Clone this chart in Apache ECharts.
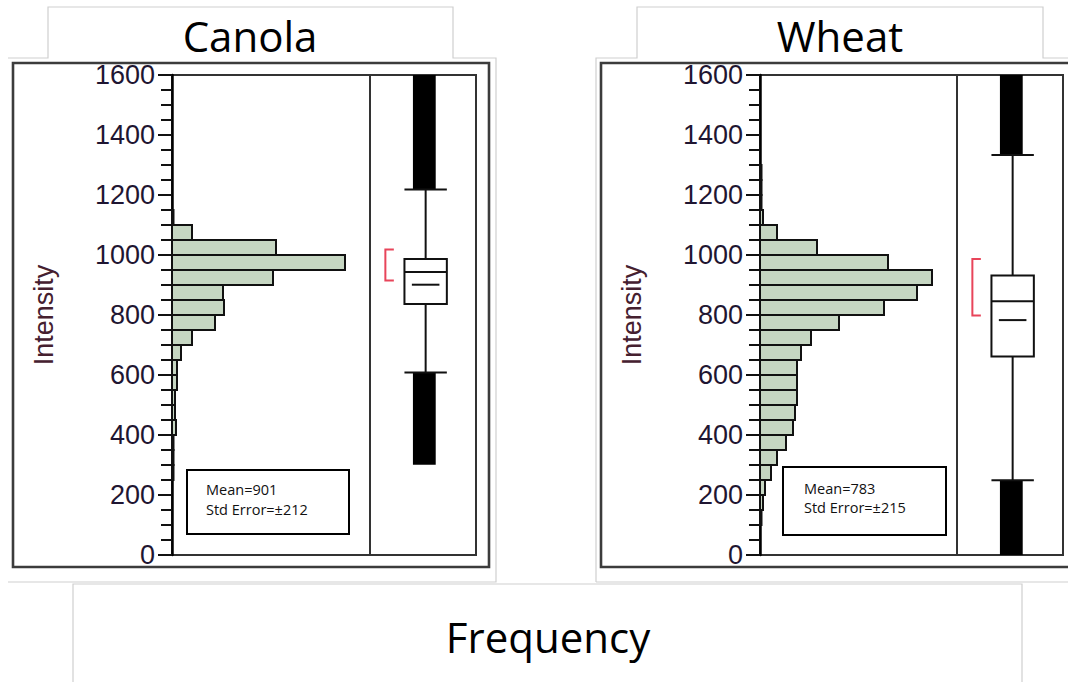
<!DOCTYPE html>
<html>
<head>
<meta charset="utf-8">
<style>
  html, body { margin: 0; padding: 0; background: #ffffff; }
  #chart { width: 1068px; height: 682px; }
</style>
<script src="https://cdn.jsdelivr.net/npm/echarts@6/dist/echarts.min.js"></script>
</head>
<body>
<div id="chart"></div>
<script>
// ---------------- DATA ----------------
const panelTitles = ['Canola', 'Wheat'];
const xAxisTitle = 'Frequency';
const yAxisTitle = 'Intensity';
const yTicks = [0, 200, 400, 600, 800, 1000, 1200, 1400, 1600];
const binWidth = 50;

// Canola histogram (bin start intensity, frequency)
const canolaBinStart = [250, 300, 350, 400, 450, 500, 550, 600, 650, 700, 750, 800, 850, 900, 950, 1000, 1050, 1100];
const canolaCounts   = [1.5, 1.5, 1.5, 4, 3, 3, 5, 5, 9, 20, 43, 52, 51, 101, 173, 104, 20, 1.5];

// Wheat histogram
const wheatBinStart = [100, 150, 200, 250, 300, 350, 400, 450, 500, 550, 600, 650, 700, 750, 800, 850, 900, 950, 1000, 1050, 1100, 1150, 1200, 1250];
const wheatCounts   = [1.5, 3, 5, 11, 17, 26, 33, 35, 37, 37, 37, 41, 51, 79, 124, 157, 172, 128, 57, 17, 3, 1.5, 1.5, 1.5];

// Box-plot summaries: [whiskerLow, q1, median, q3, whiskerHigh, mean]
const canolaBox = [608, 837, 943, 987, 1218, 901];
const wheatBox  = [249, 662, 846, 932, 1333, 783];
// Dense outlier ranges [low from, low to, high from, high to]
const canolaOutliers = [301, 608, 1218, 1600];
const wheatOutliers  = [0, 249, 1333, 1600];
// Shortest-half brackets [from, to]
const canolaShortestHalf = [915, 1018];
const wheatShortestHalf  = [798, 987];
// Summary box text values
const canolaMean = 901, canolaStdErr = 212;
const wheatMean = 783, wheatStdErr = 215;

// ---------------- CHART ----------------
const chart = echarts.init(document.getElementById('chart'), null, { renderer: 'svg' });

function bins(starts, counts) {
  return starts.map((s, i) => [s, s + binWidth, counts[i]]);
}

function histRender(params, api) {
  const lo = api.value(0), hi = api.value(1), c = api.value(2);
  const p0 = api.coord([0, hi]);
  const p1 = api.coord([c, lo]);
  return {
    type: 'rect',
    shape: { x: p0[0], y: p0[1], width: p1[0] - p0[0], height: p1[1] - p0[1] },
    style: { fill: '#c6d6c2', stroke: '#111111', lineWidth: 2 }
  };
}

const CX = 0.525, HW = 0.2, OL = 0.405, OR = 0.62, MHW = 0.13, BX0 = 0.145, BX1 = 0.225;
function boxRender(params, api) {
  const wl = api.value(0), q1 = api.value(1), med = api.value(2), q3 = api.value(3),
        wh = api.value(4), mean = api.value(5),
        oa = api.value(6), ob = api.value(7), oc = api.value(8), od = api.value(9),
        sa = api.value(10), sb = api.value(11);
  const c = (x, y) => api.coord([x, y]);
  const line = (a, b, color, w) => ({ type: 'line', shape: { x1: a[0], y1: a[1], x2: b[0], y2: b[1] },
    style: { stroke: color || '#111', lineWidth: w || 2 } });
  const rect = (x0, y0, x1, y1, fill) => {
    const a = c(x0, y1), b = c(x1, y0);
    return { type: 'rect', shape: { x: a[0], y: a[1], width: b[0] - a[0], height: b[1] - a[1] },
      style: { fill: fill, stroke: fill === '#ffffff' ? '#111' : null, lineWidth: 2 } };
  };
  const children = [
    rect(OL, oa, OR, ob, '#000000'),
    rect(OL, oc, OR, od, '#000000'),
    line(c(CX, wl), c(CX, q1)),
    line(c(CX, q3), c(CX, wh)),
    line(c(CX - HW, wl), c(CX + HW, wl)),
    line(c(CX - HW, wh), c(CX + HW, wh)),
    rect(CX - HW, q1, CX + HW, q3, '#ffffff'),
    line(c(CX - HW, med), c(CX + HW, med)),
    line(c(CX - MHW, mean), c(CX + MHW, mean)),
    { type: 'polyline', shape: { points: [c(BX1, sb), c(BX0, sb), c(BX0, sa), c(BX1, sa)] },
      style: { stroke: '#e8455a', lineWidth: 2, fill: null } }
  ];
  return { type: 'group', children: children };
}

const gridTop = 75, gridH = 480;
const grids = [
  { left: 172, top: gridTop, width: 198, height: gridH },
  { left: 370, top: gridTop, width: 106, height: gridH },
  { left: 760, top: gridTop, width: 197, height: gridH },
  { left: 957, top: gridTop, width: 106, height: gridH }
].map(g => Object.assign(g, { show: true, borderColor: '#333333', borderWidth: 2, backgroundColor: 'transparent' }));

function histYAxis(idx) {
  return {
    type: 'value', gridIndex: idx, min: yTicks[0], max: yTicks[yTicks.length - 1], interval: 200,
    name: yAxisTitle, nameLocation: 'middle', nameGap: 115, nameRotate: 90,
    nameTextStyle: { fontFamily: 'Liberation Sans', fontSize: 27, color: '#45202f' },
    axisLine: { show: true, lineStyle: { color: '#000', width: 2.5 } },
    axisTick: { show: true, length: 14, lineStyle: { color: '#111', width: 2 } },
    minorTick: { show: true, splitNumber: 4, length: 11, lineStyle: { color: '#111', width: 2 } },
    axisLabel: { fontFamily: 'Liberation Sans', fontSize: 27, color: '#1f1632', margin: 17,
      formatter: v => String(v) },
    splitLine: { show: false }
  };
}
function hiddenY(idx) {
  return { type: 'value', gridIndex: idx, min: yTicks[0], max: yTicks[yTicks.length - 1], show: false, splitLine: { show: false } };
}
function hiddenX(idx, max) {
  return { type: 'value', gridIndex: idx, min: 0, max: max, show: false, splitLine: { show: false } };
}

const greyLine = { stroke: '#cfcfcf', lineWidth: 1.2, fill: null };
const darkFrame = { stroke: '#3c3c3c', lineWidth: 2.6, fill: null };

const option = {
  animation: false,
  backgroundColor: '#ffffff',
  grid: grids,
  xAxis: [hiddenX(0, 198), hiddenX(1, 1), hiddenX(2, 197), hiddenX(3, 1)],
  yAxis: [histYAxis(0), hiddenY(1), histYAxis(2), hiddenY(3)],
  series: [
    { type: 'custom', xAxisIndex: 0, yAxisIndex: 0, renderItem: histRender, data: bins(canolaBinStart, canolaCounts), z: 3 },
    { type: 'custom', xAxisIndex: 1, yAxisIndex: 1, renderItem: boxRender,
      data: [canolaBox.concat(canolaOutliers, canolaShortestHalf)], z: 3 },
    { type: 'custom', xAxisIndex: 2, yAxisIndex: 2, renderItem: histRender, data: bins(wheatBinStart, wheatCounts), z: 3 },
    { type: 'custom', xAxisIndex: 3, yAxisIndex: 3, renderItem: boxRender,
      data: [wheatBox.concat(wheatOutliers, wheatShortestHalf)], z: 3 }
  ],
  graphic: [
    // light grey tab outlines
    { type: 'polyline', shape: { points: [[8, 58], [48, 58], [48, 7], [453, 7], [453, 58], [496, 58], [496, 582], [8, 582]] }, style: greyLine, silent: true },
    { type: 'polyline', shape: { points: [[596, 582], [596, 58], [637, 58], [637, 7], [1043, 7], [1043, 58], [1068, 58]] }, style: greyLine, silent: true },
    { type: 'polyline', shape: { points: [[596, 582], [1068, 582]] }, style: greyLine, silent: true },
    { type: 'polyline', shape: { points: [[73, 682], [73, 584], [1022, 584], [1022, 682]] }, style: greyLine, silent: true },
    // dark outer frames
    { type: 'rect', shape: { x: 13, y: 63, width: 476, height: 504 }, style: darkFrame, silent: true },
    { type: 'rect', shape: { x: 601, y: 63, width: 480, height: 504 }, style: darkFrame, silent: true },
    // titles
    { type: 'text', x: 250, y: 35, style: { text: panelTitles[0], fontFamily: 'Open Sans', fontSize: 42, fill: '#000', align: 'center', verticalAlign: 'middle' } },
    { type: 'text', x: 840, y: 35, style: { text: panelTitles[1], fontFamily: 'Open Sans', fontSize: 42, fill: '#000', align: 'center', verticalAlign: 'middle' } },
    { type: 'text', x: 548, y: 636, style: { text: xAxisTitle, fontFamily: 'Open Sans', fontSize: 42, fill: '#000', align: 'center', verticalAlign: 'middle' } },
    // summary boxes
    { type: 'rect', shape: { x: 187, y: 470, width: 162, height: 64 }, style: { stroke: '#000', lineWidth: 2, fill: '#fff' }, z: 10 },
    { type: 'text', x: 206, y: 489, z: 11, style: { text: 'Mean=' + canolaMean, fontFamily: 'Open Sans', fontSize: 14.5, fill: '#111', verticalAlign: 'middle' } },
    { type: 'text', x: 206, y: 509, z: 11, style: { text: 'Std Error=\u00b1' + canolaStdErr, fontFamily: 'Open Sans', fontSize: 14.5, fill: '#111', verticalAlign: 'middle' } },
    { type: 'rect', shape: { x: 783, y: 467, width: 163, height: 68 }, style: { stroke: '#000', lineWidth: 2, fill: '#fff' }, z: 10 },
    { type: 'text', x: 804, y: 488, z: 11, style: { text: 'Mean=' + wheatMean, fontFamily: 'Open Sans', fontSize: 14.5, fill: '#111', verticalAlign: 'middle' } },
    { type: 'text', x: 804, y: 507, z: 11, style: { text: 'Std Error=\u00b1' + wheatStdErr, fontFamily: 'Open Sans', fontSize: 14.5, fill: '#111', verticalAlign: 'middle' } }
  ]
};
chart.setOption(option);
</script>
</body>
</html>
